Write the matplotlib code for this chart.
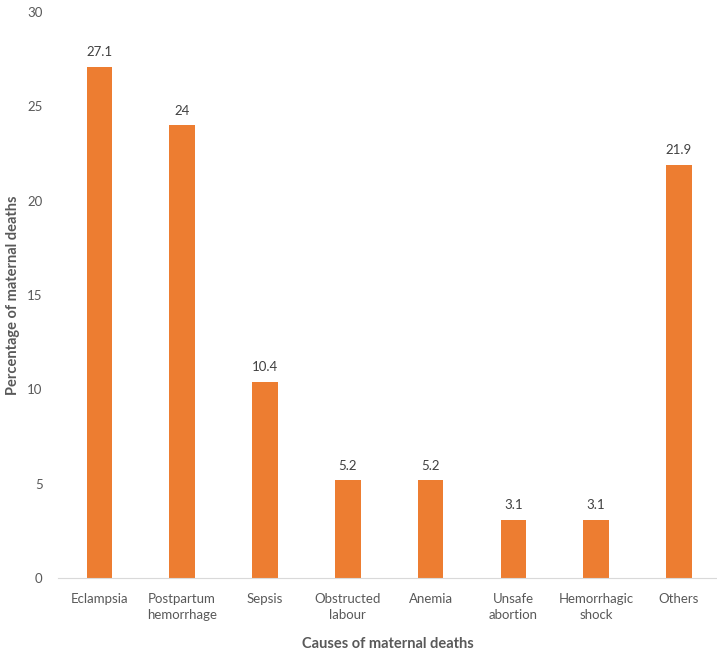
import matplotlib
matplotlib.use("Agg")
import matplotlib.pyplot as plt
import numpy as np

plt.rcParams['font.family'] = ['Lato', 'DejaVu Sans']

causes = ("Eclampsia", "Postpartum\nhemorrhage", "Sepsis", "Obstructed\nlabour",
          "Anemia", "Unsafe\nabortion", "Hemorrhagic\nshock", "Others")
percent = (27.1, 24, 10.4, 5.2, 5.2, 3.1, 3.1, 21.9)
value_labels = ("27.1", "24", "10.4", "5.2", "5.2", "3.1", "3.1", "21.9")

txt = "#595959"

fig = plt.figure(figsize=(7.17, 6.52), dpi=100)
ax = fig.add_axes([58 / 717, 74 / 652, 659 / 717, 566 / 652])

x = np.arange(len(causes))
bars = ax.bar(x, percent, width=0.31, color="#ED7D31")

for b, lab in zip(bars, value_labels):
    ax.annotate(lab, (b.get_x() + b.get_width() / 2, b.get_height()),
                xytext=(0, 6), textcoords="offset points",
                ha="center", va="bottom", fontsize=9.5, color="#404040")

ax.set_xlim(-0.5, 7.46)
ax.set_ylim(0, 30)
ax.set_yticks(range(0, 31, 5))
ax.set_xticks(x, causes)
for t in ax.get_xticklabels():
    t.set_linespacing(1.35)
ax.tick_params(axis="both", length=0, labelsize=9.5, colors=txt)
ax.tick_params(axis="x", pad=11)
ax.tick_params(axis="y", pad=11)

for s in ("top", "right", "left"):
    ax.spines[s].set_visible(False)
ax.spines["bottom"].set_color("#D9D9D9")

ax.set_xlabel("Causes of maternal deaths", fontsize=10.5, fontweight="bold", color=txt, labelpad=12)
ax.set_ylabel("Percentage of maternal deaths", fontsize=10.5, fontweight="bold", color=txt, labelpad=5)

fig.savefig("out.png", dpi=100)
